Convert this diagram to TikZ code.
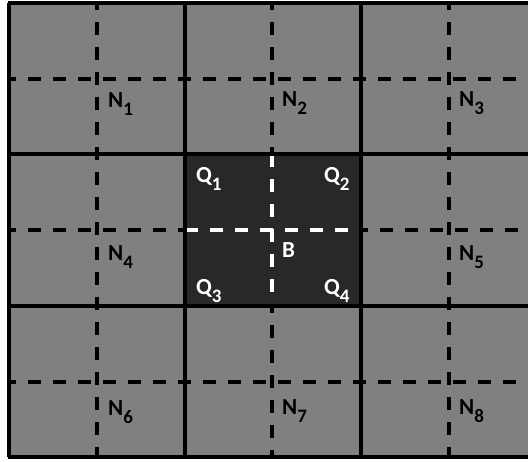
\documentclass[tikz,border=0pt]{standalone}
\usepackage{fontspec}
\setmainfont{Carlito}
\definecolor{cellgray}{RGB}{128,128,128}
\definecolor{darkblock}{RGB}{40,40,40}
\newcommand\lblsub[1]{\raisebox{-8pt}{\fontsize{19}{19}\selectfont #1}}
\begin{document}
\begin{tikzpicture}[x=1pt,y=-1pt,
  solidline/.style={line width=3.5pt,black},
  dashline/.style={line width=3.5pt,black,dash pattern=on 13pt off 12pt},
  wdashline/.style={line width=3.5pt,white,dash pattern=on 13pt off 12pt},
  lbl/.style={anchor=base west,inner sep=0pt,font=\fontsize{23}{25}\selectfont\bfseries},
  wlbl/.style={lbl,text=white}]
\useasboundingbox (0,0) rectangle (528,462);
\clip (0,0) rectangle (528,462);
% fills
\fill[cellgray] (9,3) rectangle (540,457);
\fill[darkblock] (185,154) rectangle (361,306);
% black dashed lines
\draw[dashline,dash phase=6pt] (97,3) -- (97,457);
\draw[dashline,dash phase=6pt] (449,3) -- (449,457);
\draw[dashline,dash phase=6pt] (272,3) -- (272,154);
\draw[dashline,dash phase=6pt] (272,306) -- (272,457);
\draw[dashline,dash phase=6pt] (9,79) -- (540,79);
\draw[dashline,dash phase=6pt] (9,382) -- (540,382);
\draw[dashline,dash phase=6pt] (9,230) -- (185,230);
\draw[dashline,dash phase=6pt] (361,230) -- (540,230);
% white dashed lines in the centre block
\draw[wdashline,dash phase=0pt] (272,154) -- (272,306);
\draw[wdashline,dash phase=0pt] (185,230) -- (361,230);
% solid grid lines
\foreach \yy in {3,154,306,457} \draw[solidline] (7.5,\yy) -- (540,\yy);
\foreach \xx in {9,185,361} \draw[solidline] (\xx,3) -- (\xx,457);
% labels
\node[lbl] (n1) at (108,108) {N\lblsub{1}};
\node[lbl] (n2) at (282,107) {N\lblsub{2}};
\node[lbl] (n3) at (459,107) {N\lblsub{3}};
\node[lbl] (n4) at (108,261) {N\lblsub{4}};
\node[lbl] (n5) at (459,261) {N\lblsub{5}};
\node[lbl] (n6) at (108,416) {N\lblsub{6}};
\node[lbl] (n7) at (282,415) {N\lblsub{7}};
\node[lbl] (n8) at (459,415) {N\lblsub{8}};
\node[wlbl] (q1) at (196,183) {Q\lblsub{1}};
\node[wlbl] (q2) at (324,183) {Q\lblsub{2}};
\node[wlbl] (q3) at (196,295) {Q\lblsub{3}};
\node[wlbl] (q4) at (324,295) {Q\lblsub{4}};
\node[wlbl] (b) at (282,258) {B};
\end{tikzpicture}
\end{document}
